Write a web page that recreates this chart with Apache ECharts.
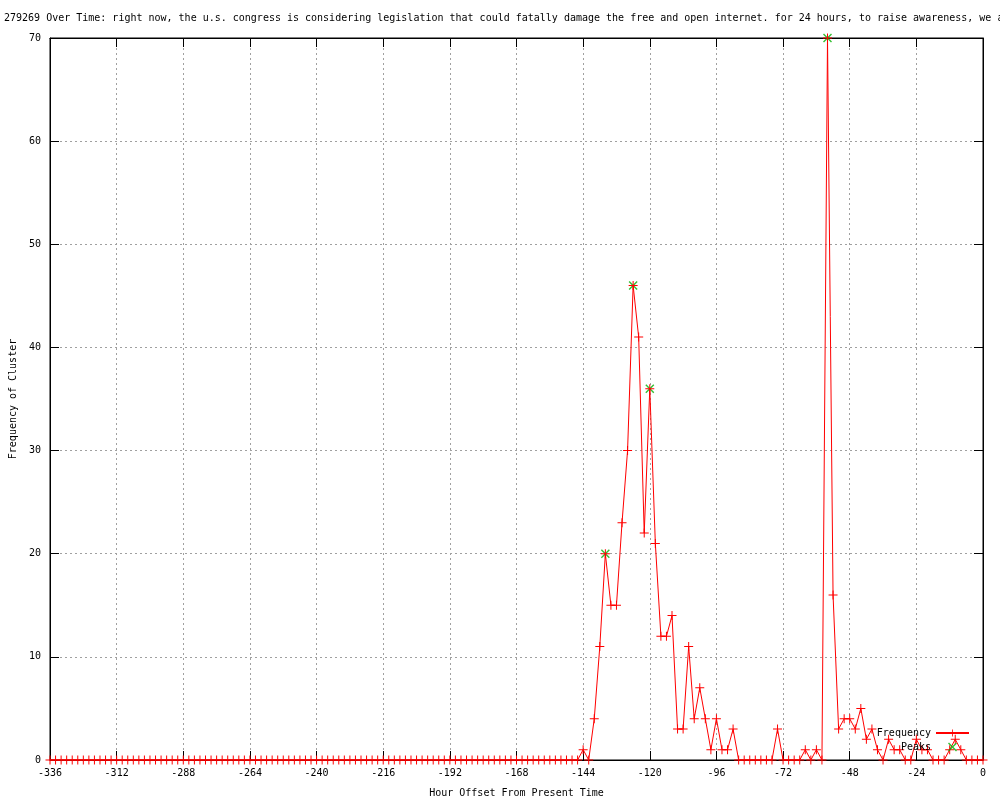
<!DOCTYPE html>
<html>
<head>
<meta charset="utf-8">
<script src="https://cdn.jsdelivr.net/npm/echarts@6/dist/echarts.min.js"></script>
<style>html,body{margin:0;padding:0;background:#fff;}#c{width:1000px;height:800px;}</style>
</head>
<body>
<div id="c"></div>
<script>
var titleText = '279269 Over Time: right now, the u.s. congress is considering legislation that could fatally damage the free and open internet. for 24 hours, to raise awareness, we a';
var xAxisName = 'Hour Offset From Present Time';
var yAxisName = 'Frequency of Cluster';

var hours = [-336,-334,-332,-330,-328,-326,-324,-322,-320,-318,-316,-314,-312,-310,-308,-306,-304,-302,-300,-298,
-296,-294,-292,-290,-288,-286,-284,-282,-280,-278,-276,-274,-272,-270,-268,-266,-264,-262,-260,-258,
-256,-254,-252,-250,-248,-246,-244,-242,-240,-238,-236,-234,-232,-230,-228,-226,-224,-222,-220,-218,
-216,-214,-212,-210,-208,-206,-204,-202,-200,-198,-196,-194,-192,-190,-188,-186,-184,-182,-180,-178,
-176,-174,-172,-170,-168,-166,-164,-162,-160,-158,-156,-154,-152,-150,-148,-146,-144,-142,-140,-138,
-136,-134,-132,-130,-128,-126,-124,-122,-120,-118,-116,-114,-112,-110,-108,-106,-104,-102,-100,-98,
-96,-94,-92,-90,-88,-86,-84,-82,-80,-78,-76,-74,-72,-70,-68,-66,-64,-62,-60,-58,
-56,-54,-52,-50,-48,-46,-44,-42,-40,-38,-36,-34,-32,-30,-28,-26,-24,-22,-20,-18,
-16,-14,-12,-10,-8,-6,-4,-2,0];

var frequency = [0,0,0,0,0,0,0,0,0,0,0,0,0,0,0,0,0,0,0,0,
0,0,0,0,0,0,0,0,0,0,0,0,0,0,0,0,0,0,0,0,
0,0,0,0,0,0,0,0,0,0,0,0,0,0,0,0,0,0,0,0,
0,0,0,0,0,0,0,0,0,0,0,0,0,0,0,0,0,0,0,0,
0,0,0,0,0,0,0,0,0,0,0,0,0,0,0,0,1,0,4,11,
20,15,15,23,30,46,41,22,36,21,12,12,14,3,3,11,4,7,4,1,
4,1,1,3,0,0,0,0,0,0,0,3,0,0,0,0,1,0,1,0,
70,16,3,4,4,3,5,2,3,1,0,2,1,1,0,0,2,1,1,0,
0,0,1,2,1,0,0,0,0];

var peakHours = [-136, -126, -120, -56];
var peakValues = [20, 46, 36, 70];

var xTickMin = -336, xTickMax = 0, xTickStep = 24;
var yTickMin = 0, yTickMax = 70, yTickStep = 10;

var freqData = hours.map(function (h, i) { return [h, frequency[i]]; });
var peakData = peakHours.map(function (h, i) { return [h, peakValues[i]]; });

var FONT = 'DejaVu Sans Mono';
var plusSym = 'path://M4,0H5V4H9V5H5V9H4V5H0V4H4Z';
var xSym = 'path://M0,1L1,0L4.5,3.5L8,0L9,1L5.5,4.5L9,8L8,9L4.5,5.5L1,9L0,8L3.5,4.5Z';
var gridLine = { show: true, lineStyle: { color: '#a0a0a0', width: 1, type: [2, 3] } };

var chart = echarts.init(document.getElementById('c'), null, { renderer: 'canvas' });
chart.setOption({
  animation: false,
  backgroundColor: '#ffffff',
  title: {
    text: titleText, left: 4, top: 13, padding: 0,
    textStyle: { fontFamily: FONT, fontSize: 10, fontWeight: 'normal', color: '#000' }
  },
  grid: { left: 50, right: 17, top: 38, bottom: 40, show: true, borderColor: '#000', borderWidth: 1,
          containLabel: false, outerBoundsMode: 'none' },
  legend: {
    data: ['Frequency', 'Peaks'], orient: 'vertical', right: 30, top: 728, align: 'right', padding: 0,
    itemWidth: 33, itemHeight: 9, itemGap: 4, selectedMode: false,
    textStyle: { fontFamily: FONT, fontSize: 10, color: '#000' }
  },
  xAxis: [{
    type: 'value', min: xTickMin, max: xTickMax, interval: xTickStep, position: 'bottom',
    name: xAxisName, nameLocation: 'middle', nameGap: 28,
    nameTextStyle: { fontFamily: FONT, fontSize: 10, color: '#000' },
    axisLine: { show: true, onZero: false, lineStyle: { color: '#000', width: 1 } },
    axisTick: { show: true, inside: true, length: 9, lineStyle: { color: '#000' } },
    axisLabel: { fontFamily: FONT, fontSize: 10, color: '#000', margin: 8 },
    splitLine: gridLine
  }, {
    type: 'value', min: xTickMin, max: xTickMax, interval: xTickStep, position: 'top',
    axisLine: { show: true, onZero: false, lineStyle: { color: '#000', width: 1 } },
    axisTick: { show: true, inside: true, length: 9, lineStyle: { color: '#000' } },
    axisLabel: { show: false }, splitLine: { show: false }
  }],
  yAxis: [{
    type: 'value', min: yTickMin, max: yTickMax, interval: yTickStep, position: 'left',
    name: yAxisName, nameLocation: 'middle', nameGap: 31, nameRotate: 90,
    nameTextStyle: { fontFamily: FONT, fontSize: 10, color: '#000' },
    axisLine: { show: true, onZero: false, lineStyle: { color: '#000', width: 1 } },
    axisTick: { show: true, inside: true, length: 9, lineStyle: { color: '#000' } },
    axisLabel: { fontFamily: FONT, fontSize: 10, color: '#000', margin: 9 },
    splitLine: gridLine
  }, {
    type: 'value', min: yTickMin, max: yTickMax, interval: yTickStep, position: 'right',
    axisLine: { show: true, onZero: false, lineStyle: { color: '#000', width: 1 } },
    axisTick: { show: true, inside: true, length: 9, lineStyle: { color: '#000' } },
    axisLabel: { show: false }, splitLine: { show: false }
  }],
  series: [{
    name: 'Peaks', type: 'scatter', xAxisIndex: 0, yAxisIndex: 0, data: peakData,
    symbol: xSym, symbolSize: 9, z: 2, clip: false,
    itemStyle: { color: '#00b000' }
  }, {
    name: 'Frequency', type: 'line', xAxisIndex: 0, yAxisIndex: 0, data: freqData,
    symbol: plusSym, symbolSize: 9, showSymbol: true, z: 3, clip: false,
    lineStyle: { color: '#ff0000', width: 1 },
    itemStyle: { color: '#ff0000' }
  }]
});
</script>
</body>
</html>
